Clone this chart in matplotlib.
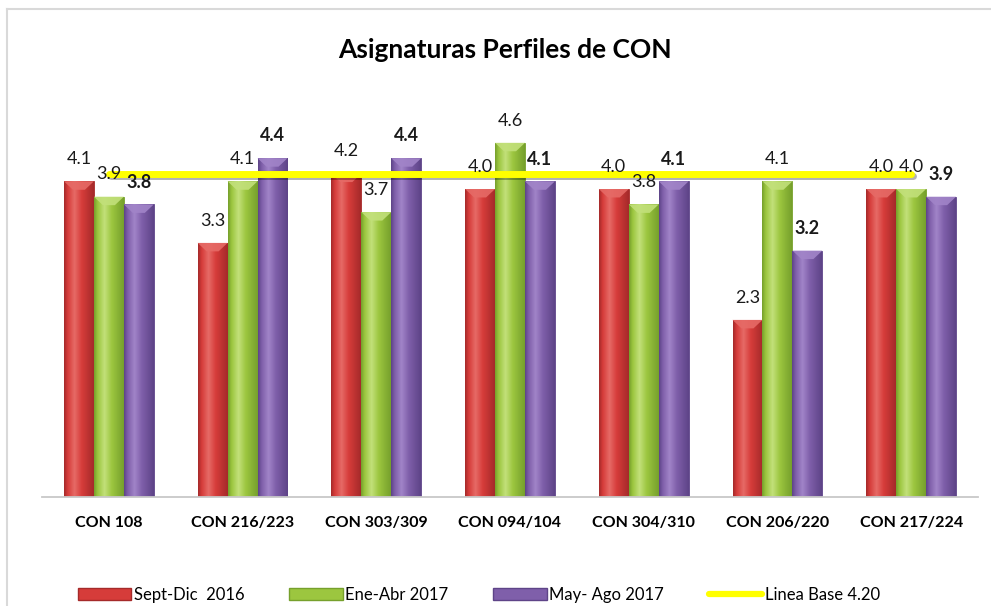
import numpy as np
import matplotlib.pyplot as plt
import matplotlib.patheffects as pe
from matplotlib.colors import LinearSegmentedColormap
from matplotlib.patches import Polygon, Patch
from matplotlib.lines import Line2D

plt.rcParams['font.family'] = ['Lato', 'DejaVu Sans']

categories = ['CON 108', 'CON 216/223', 'CON 303/309', 'CON 094/104',
              'CON 304/310', 'CON 206/220', 'CON 217/224']
sept_dic_2016 = [4.1, 3.3, 4.2, 4.0, 4.0, 2.3, 4.0]
ene_abr_2017 = [3.9, 4.1, 3.7, 4.6, 3.8, 4.1, 4.0]
may_ago_2017 = [3.8, 4.4, 4.4, 4.1, 4.1, 3.2, 3.9]
linea_base = [4.2, 4.2, 4.2, 4.2, 4.2, 4.2, 4.2]
series_names = ['Sept-Dic  2016', 'Ene-Abr 2017', 'May- Ago 2017']
line_name = 'Linea Base 4.20'
title = 'Asignaturas Perfiles de CON'

# base, highlight, dark edge
palette = [('#d63c3a', '#e66a66', '#a52a2a'),
           ('#9cc63f', '#c2e07a', '#76a02c'),
           ('#7f5faa', '#a184c8', '#5e4488')]


def gradient_bar(ax, x, h, w, cols):
    base, light, dark = cols
    cmap = LinearSegmentedColormap.from_list(
        'g', [(0, dark), (0.12, base), (0.35, light), (0.6, base), (1, dark)])
    bar = ax.bar(x, h, w, color=base, edgecolor=dark, linewidth=0.6, zorder=2)[0]
    grad = np.linspace(0, 1, 64).reshape(1, -1)
    im = ax.imshow(grad, cmap=cmap, aspect='auto', zorder=2.1,
                   extent=(x - w / 2, x + w / 2, 0, h), origin='lower')
    im.set_clip_path(bar)
    # bevelled top
    d = 0.11
    top = Polygon([(x - w / 2, h), (x + w / 2, h), (x + w * 0.2, h - d),
                   (x - w * 0.2, h - d)], closed=True,
                  facecolor=light, edgecolor='none', alpha=0.9, zorder=2.2)
    ax.add_patch(top)


fig = plt.figure(figsize=(9.91, 6.06), dpi=100)
ax = fig.add_axes([42 / 991, 1 - 497 / 606, 936 / 991, 385 / 606])

x = np.arange(len(categories))
w = 0.224
data = [sept_dic_2016, ene_abr_2017, may_ago_2017]
for i, vals in enumerate(data):
    for j, v in enumerate(vals):
        xi = x[j] + (i - 1) * w
        gradient_bar(ax, xi, v, w, palette[i])
        ax.annotate(f'{v:.1f}', (xi, v), xytext=(0, 16), textcoords='offset points',
                    ha='center', va='center', fontsize=13,
                    fontweight='bold' if i == 2 else 'normal', color='#1a1a1a',
                    zorder=5)

ax.plot(x, linea_base, color='#ffff00', lw=5, solid_capstyle='round', zorder=4,
        path_effects=[pe.SimpleLineShadow(offset=(1.2, -2), shadow_color='k', alpha=0.3),
                      pe.Normal()])

ax.set_xlim(-0.5, len(categories) - 0.5)
ax.set_ylim(0, 5)
ax.set_xticks(x)
ax.set_xticklabels(categories, fontsize=11.5, fontweight='bold')
ax.tick_params(axis='x', length=0, pad=14)
ax.set_yticks([])
for s in ['left', 'right', 'top']:
    ax.spines[s].set_visible(False)
ax.spines['bottom'].set_color('#c8c8c8')
ax.spines['bottom'].set_linewidth(1.3)

fig.text(505 / 991, 1 - 50 / 606, title, ha='center', va='center',
         fontsize=19, fontweight='bold')

handles = [Patch(facecolor=palette[i][0], edgecolor=palette[i][2]) for i in range(3)]
handles.append(Line2D([0], [0], color='#ffff00', lw=4.5, solid_capstyle='round'))
fig.legend(handles, series_names + [line_name], loc='center', ncol=4,
           bbox_to_anchor=(479 / 991, 1 - 595 / 606), frameon=False, fontsize=12,
           handlelength=3.2, handleheight=0.72, handletextpad=0.15, columnspacing=2.7,
           borderpad=0)

# outer chart frame
fig.add_artist(Line2D([7 / 991, 7 / 991], [0, 1 - 9 / 606], color='#d9d9d9', lw=1.5))
fig.add_artist(Line2D([7 / 991, 1], [1 - 9 / 606, 1 - 9 / 606], color='#d9d9d9', lw=1.5))

fig.savefig('out.png', dpi=100)
